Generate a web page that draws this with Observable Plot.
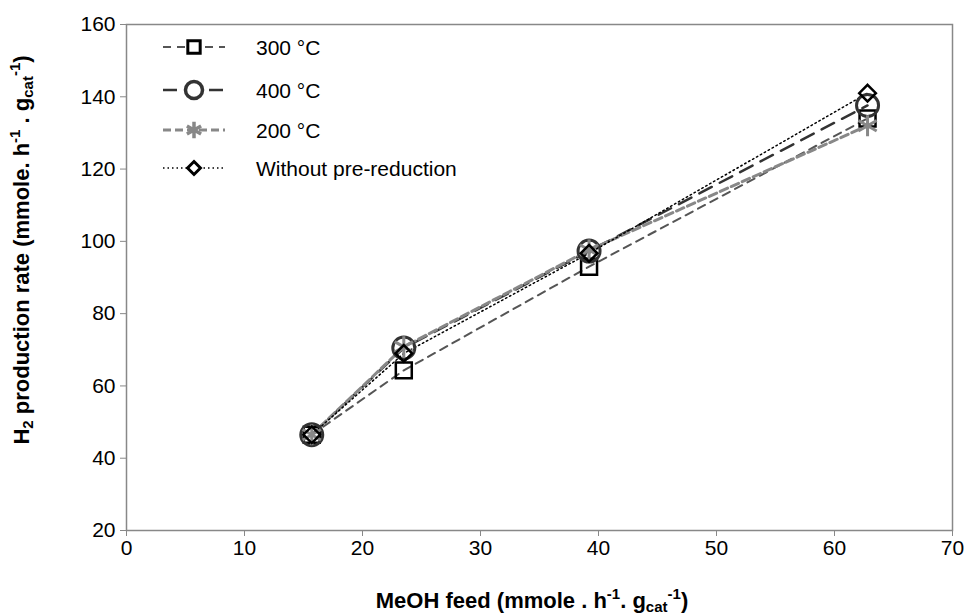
<!DOCTYPE html>
<html>
<head>
<meta charset="utf-8">
<script src="https://cdn.jsdelivr.net/npm/d3@7"></script>
<script src="https://cdn.jsdelivr.net/npm/@observablehq/plot@0.6"></script>
<style>
  html, body { margin: 0; padding: 0; background: #fff; }
  #wrap { position: relative; width: 965px; height: 616px; font-family: "Liberation Sans", Arial, sans-serif; }
  #wrap svg g[aria-label="x-axis tick label"] text,
  #wrap svg g[aria-label="y-axis tick label"] text { font-size: 21px !important; fill: #000; }
</style>
</head>
<body>
<div id="wrap"></div>
<script>
// ---- data ----
const feed = [15.7, 23.5, 39.2, 62.8];
const h300 = [46.5, 64.3, 93.0, 134.0];
const h400 = [46.5, 70.5, 97.3, 137.6];
const h200 = [46.5, 70.8, 97.6, 132.0];
const hWithout = [46.5, 69.0, 96.7, 141.0];
const seriesNames = ["300 °C", "400 °C", "200 °C", "Without pre-reduction"];
const xTicks = [0, 10, 20, 30, 40, 50, 60, 70];
const yTicks = [20, 40, 60, 80, 100, 120, 140, 160];

const styles = {
  "300 °C": {stroke: "#555", width: 2, dash: "8,6", symbol: "square", r: 9, mstroke: "#000", mwidth: 2.5},
  "400 °C": {stroke: "#333", width: 2.5, dash: "14,9", symbol: "circle", r: 11, mstroke: "#333", mwidth: 3},
  "200 °C": {stroke: "#888", width: 3, dash: "8,4", symbol: "asterisk", r: 10, mstroke: "#888", mwidth: 3},
  "Without pre-reduction": {stroke: "#000", width: 1.5, dash: "1.5,3", symbol: "diamond2", r: 7.5, mstroke: "#000", mwidth: 2.5}
};

const values = [h300, h400, h200, hWithout];
const rows = [];
seriesNames.forEach((s, i) => feed.forEach((f, j) => rows.push({series: s, x: f, y: values[i][j]})));

const marks = [
  Plot.frame({stroke: "#888", strokeWidth: 1.5}),
  Plot.axisX({ticks: xTicks, tickSize: 6, tickPadding: 4, label: null, stroke: "#888"}),
  Plot.axisY({ticks: yTicks, tickSize: 6, tickPadding: 5, label: null, stroke: "#888"})
];
seriesNames.forEach(s => {
  const st = styles[s];
  marks.push(Plot.line(rows.filter(d => d.series === s), {x: "x", y: "y", stroke: st.stroke, strokeWidth: st.width, strokeDasharray: st.dash}));
});
seriesNames.forEach(s => {
  const st = styles[s];
  marks.push(Plot.dot(rows.filter(d => d.series === s), {x: "x", y: "y", symbol: () => st.symbol, r: st.r, stroke: st.mstroke, strokeWidth: st.mwidth, fill: "none"}));
});

const chart = Plot.plot({
  width: 965,
  height: 616,
  marginLeft: 126,
  marginRight: 13,
  marginTop: 24,
  marginBottom: 86,
  style: {fontFamily: "Liberation Sans, Arial, sans-serif", fontSize: "21px", color: "#000", background: "#fff"},
  x: {domain: [0, 70]},
  y: {domain: [20, 160]},
  marks
});
document.getElementById("wrap").appendChild(chart);

const svg = d3.select(chart);
const big = "22px", small = "15px";
// axis titles with sub/superscripts
const xt = svg.append("text").attr("x", 532).attr("y", 608).attr("text-anchor", "middle")
  .style("font-weight", "bold").style("font-size", big).attr("fill", "#000");
xt.append("tspan").text("MeOH feed (mmole . h");
xt.append("tspan").style("font-size", small).attr("dy", -9).text("-1");
xt.append("tspan").attr("dy", 9).text(". g");
xt.append("tspan").style("font-size", small).attr("dy", 4).text("cat");
xt.append("tspan").style("font-size", small).attr("dy", -13).text("-1");
xt.append("tspan").attr("dy", 9).text(")");

const yt = svg.append("text").attr("transform", "translate(29,250) rotate(-90)").attr("text-anchor", "middle")
  .style("font-weight", "bold").style("font-size", big).attr("fill", "#000");
yt.append("tspan").text("H");
yt.append("tspan").style("font-size", small).attr("dy", 4).text("2");
yt.append("tspan").attr("dy", -4).text(" production rate (mmole. h");
yt.append("tspan").style("font-size", small).attr("dy", -9).text("-1");
yt.append("tspan").attr("dy", 9).text(" . g");
yt.append("tspan").style("font-size", small).attr("dy", 4).text("cat");
yt.append("tspan").style("font-size", small).attr("dy", -13).text("-1");
yt.append("tspan").attr("dy", 9).text(")");

// legend
const symMap = {square: d3.symbolSquare, circle: d3.symbolCircle, asterisk: d3.symbolAsterisk, diamond2: d3.symbolDiamond2};
const lg = svg.append("g").attr("transform", "translate(163,47)");
seriesNames.forEach((s, i) => {
  const st = styles[s];
  const g = lg.append("g").attr("transform", `translate(0,${[0, 43, 83, 121][i]})`);
  g.append("line").attr("x1", 0).attr("x2", 62).attr("y1", 0).attr("y2", 0)
    .attr("stroke", st.stroke).attr("stroke-width", st.width).attr("stroke-dasharray", st.dash);
  const size = Math.PI * st.r * st.r * 0.6;
  g.append("path").attr("transform", "translate(31,0)")
    .attr("d", d3.symbol(symMap[st.symbol], size)())
    .attr("fill", "#fff").attr("stroke", st.mstroke).attr("stroke-width", st.mwidth + 0.5);
  g.append("text").attr("x", 93).attr("y", 8).attr("text-anchor", "start")
    .style("font-size", "21px").attr("fill", "#000").text(s);
});
</script>
</body>
</html>
